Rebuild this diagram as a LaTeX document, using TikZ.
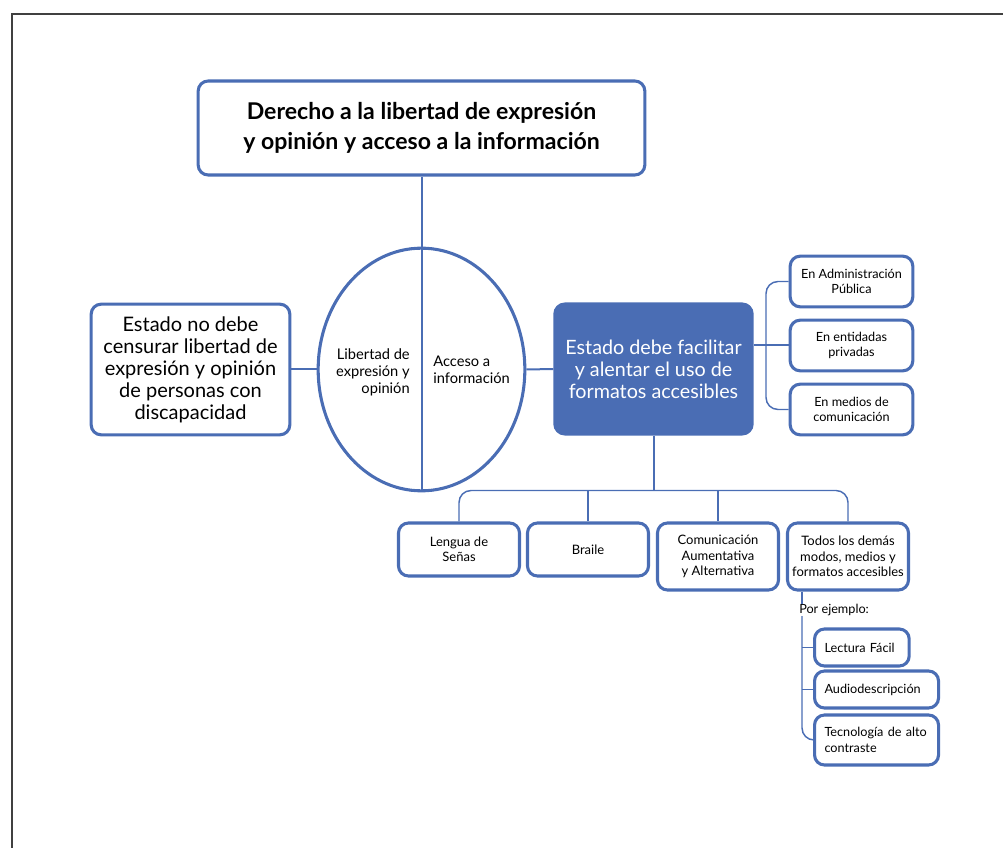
\documentclass[tikz,border=0pt]{standalone}
\usepackage{fontspec}
\setmainfont{Lato}
\usetikzlibrary{shapes.geometric,calc}
\definecolor{azul}{RGB}{74,109,180}
\tikzset{
  caja/.style={draw=azul, line width=2.3pt, rounded corners=7.5pt, align=center, inner sep=2pt},
  llena/.style={caja, fill=azul, text=white},
  linea/.style={draw=azul, line width=1.5pt},
  fina/.style={draw=azul, line width=1.1pt, rounded corners=9pt},
}
\begin{document}
\begin{tikzpicture}[x=0.75pt,y=-0.75pt]
    \useasboundingbox (0,0) rectangle (1003,848);
    %frame
    \draw [black!75, line width=1.6pt] (12,848) -- (12,14) -- (1003,14);
    %top and centre
    \node[caja, minimum width=335pt, minimum height=70.5pt, font=\fontsize{17.3pt}{23pt}\selectfont\bfseries] (titulo) at (421.5,128)
        {Derecho a la libertad de expresión\\y opinión y acceso a la información};
    \node[draw=azul, line width=2.3pt, ellipse, minimum width=155pt, minimum height=182pt] (circ) at (421.5,369.5) {};
    \node[caja, minimum width=149pt, minimum height=98pt, font=\fontsize{15pt}{16.5pt}\selectfont] (censura) at (190.5,369.5)
        {Estado no debe\\censurar libertad de\\expresión y opinión\\de personas con\\discapacidad};
    \node[llena, minimum width=148pt, minimum height=97.5pt, font=\fontsize{14.8pt}{16.5pt}\selectfont] (facilitar) at (653.5,369)
        {Estado debe facilitar\\y alentar el uso de\\formatos accesibles};
    \node[anchor=east, align=right, inner sep=0pt, font=\fontsize{11pt}{12.75pt}\selectfont] (libertad) at (410,372)
        {Libertad de\\expresión y\\opinión};
    \node[anchor=west, align=left, inner sep=0pt, font=\fontsize{11pt}{12.75pt}\selectfont] (acceso) at (433,370)
        {Acceso a\\información};
    \draw [linea] (titulo.south) -- (circ.south);
    \draw [linea] (censura.east) -- (circ.west);
    \draw [linea] (circ.east) -- (facilitar.west);
    %right side
    \begin{scope}[every node/.style={caja, minimum width=92pt, minimum height=38pt, font=\fontsize{9.5pt}{11.5pt}\selectfont}]
    \node (admin) at (851.5,281.5) {En Administración\\Pública};
    \node (privadas) at (851.5,345.5) {En entidadas\\privadas};
    \node (medios) at (851.5,409.5) {En medios de\\comunicación};
    \end{scope}
    \coordinate (rk) at (766,345.5);
    \draw [linea] (facilitar.east |- privadas) -- (privadas.west);
    \draw [fina] (admin.west) -| (rk) |- (medios.west);
    %bottom
    \begin{scope}[every node/.style={caja, minimum width=90.75pt, font=\fontsize{9.75pt}{11.6pt}\selectfont}]
    \node[minimum height=39.75pt] (senas) at (459,549.5) {Lengua de\\Señas};
    \node[minimum height=39.75pt] (braile) at (588,549.5) {Braile};
    \node[minimum height=50.25pt] (caa) at (718,556.5) {Comunicación\\Aumentativa\\y Alternativa};
    \node[minimum height=50.25pt] (demas) at (848,556.5) {Todos los demás\\modos, medios y\\formatos accesibles};
    \end{scope}
    \coordinate (bus) at (653.5,490.5);
    \draw [linea] (facilitar.south) -- (bus);
    \draw [fina] (senas.north) |- (bus) -| (demas.north);
    \draw [fina] (braile.north) -- (braile.north |- bus);
    \draw [fina] (caa.north) -- (caa.north |- bus);
    %examples
    \node[anchor=west, inner sep=0pt, font=\fontsize{9.5pt}{11.5pt}\selectfont] (ejemplo) at (799,610) {Por ejemplo:};
    \begin{scope}[every node/.style={caja, anchor=west, align=left, inner xsep=7.5pt, font=\fontsize{9.5pt}{11.5pt}\selectfont}]
    \node[text width=56pt, minimum height=27.75pt] (lectura) at (813,647.5) {Lectura Fácil};
    \node[text width=78pt, minimum height=27.75pt] (audio) at (813,689.5) {Audiodescripción};
    \node[text width=78pt, minimum height=37.5pt] (contraste) at (813,740) {Tecnología de alto\\contraste};
    \end{scope}
    \coordinate (ex) at (802,610);
    \draw [fina] (demas.south -| ex) -- (ejemplo.north -| ex);
    \draw [fina] (ejemplo.south -| ex) |- (contraste.west);
    \draw [fina] (lectura.west -| ex) -- (lectura.west);
    \draw [fina] (audio.west -| ex) -- (audio.west);
\end{tikzpicture}
\end{document}
